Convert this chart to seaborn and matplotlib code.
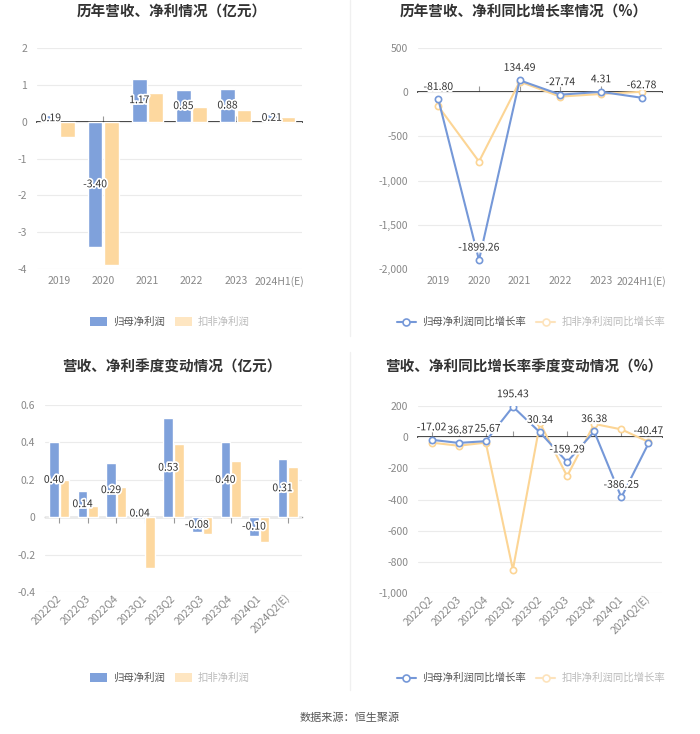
import numpy as np
import pandas as pd
import matplotlib
matplotlib.use("Agg")
import matplotlib.pyplot as plt
import seaborn as sns
from matplotlib import patheffects as pe
from matplotlib.lines import Line2D
from matplotlib.patches import Patch
from matplotlib.ticker import FuncFormatter

# ---------------- data ----------------
years = ["2019", "2020", "2021", "2022", "2023", "2024H1(E)"]
annual_parent = [0.19, -3.40, 1.17, 0.85, 0.88, 0.21]
annual_deducted = [-0.42, -3.88, 0.78, 0.40, 0.33, 0.14]
annual_parent_growth = [-81.80, -1899.26, 134.49, -27.74, 4.31, -62.78]
annual_deducted_growth = [-160, -785, 120, -50, -20, 5]

quarters = ["2022Q2", "2022Q3", "2022Q4", "2023Q1", "2023Q2", "2023Q3",
            "2023Q4", "2024Q1", "2024Q2(E)"]
q_parent = [0.40, 0.14, 0.29, 0.04, 0.53, -0.08, 0.40, -0.10, 0.31]
q_deducted = [0.20, 0.06, 0.16, -0.27, 0.39, -0.09, 0.30, -0.13, 0.27]
q_parent_growth = [-17.02, -36.87, -25.67, 195.43, 30.34, -159.29, 36.38, -386.25, -40.47]
q_deducted_growth = [-35, -55, -35, -850, 90, -250, 85, 50, -30]

S1, S2 = "归母净利润", "扣非净利润"
G1, G2 = "归母净利润同比增长率", "扣非净利润同比增长率"
titles = ["历年营收、净利情况（亿元）", "历年营收、净利同比增长率情况（%）",
          "营收、净利季度变动情况（亿元）", "营收、净利同比增长率季度变动情况（%）"]
source = "数据来源：恒生聚源"

# ---------------- style ----------------
BLUE = "#7FA1DB"
PEACH = "#FDD89F"
LBLUE = "#7598D8"
LPEACH = "#FCD595"
TICK = "#888888"
LABEL = "#333333"

sns.set_theme(style="white")
plt.rcParams["font.family"] = ["Noto Sans CJK SC", "DejaVu Sans"]
plt.rcParams["axes.unicode_minus"] = False

W, H = 700, 734
fig = plt.figure(figsize=(W / 100, H / 100), dpi=100)
fig.patch.set_facecolor("white")


def rect(x0, y0, x1, y1):
    return [x0 / W, 1 - y1 / H, (x1 - x0) / W, (y1 - y0) / H]


def fmt(v, pos=None):
    if abs(v) < 1e-9:
        return "0"
    if abs(v) >= 1000:
        return f"{v:,.0f}"
    return f"{v:g}"


def style_axes(ax, cats, ylim, yticks, rotate):
    ax.set_ylim(*ylim)
    ax.set_yticks(yticks)
    ax.yaxis.set_major_formatter(FuncFormatter(fmt))
    ax.set_xlim(-0.5, len(cats) - 0.5)
    for s in ax.spines.values():
        s.set_visible(False)
    ax.grid(axis="y", color="#EBEBEB", linewidth=0.8)
    ax.set_axisbelow(True)
    ax.tick_params(axis="y", length=0, pad=7, labelsize=7.5, labelcolor=TICK)
    ax.tick_params(axis="x", length=0, pad=5, labelsize=7.5, labelcolor=TICK)
    ax.set_xlabel("")
    ax.set_ylabel("")
    if rotate:
        for lab in ax.get_xticklabels():
            lab.set_rotation(45)
            lab.set_ha("right")
            lab.set_va("center")
            lab.set_rotation_mode("anchor")
        ax.tick_params(axis="x", pad=3)
    # zero axis line with small tick marks
    frac = (0 - ylim[0]) / (ylim[1] - ylim[0])
    sec = ax.secondary_xaxis(frac)
    sec.set_xticks(range(len(cats)))
    sec.set_xticklabels([])
    sec.tick_params(axis="x", length=4, width=0.8, color="#999999", direction="out")
    sec.spines["bottom"].set_color("#999999")
    sec.spines["bottom"].set_linewidth(1.0)


def bar_panel(ax, cats, v1, v2, ylim, yticks, rotate):
    n = len(cats)
    df = pd.DataFrame({"cat": cats * 2, "val": v1 + v2,
                       "series": [S1] * n + [S2] * n})
    sns.barplot(data=df, x="cat", y="val", hue="series", order=cats,
                hue_order=[S1, S2], palette=[BLUE, PEACH], saturation=1,
                width=0.74, gap=0.1, errorbar=None, legend=False, ax=ax)
    style_axes(ax, cats, ylim, yticks, rotate)
    for bar, v in zip(ax.containers[0], v1):
        x = bar.get_x() + bar.get_width() / 2
        y = bar.get_y() + bar.get_height() / 2
        ax.text(x, y, f"{v:.2f}", ha="center", va="center", fontsize=7.5,
                color=LABEL, zorder=5,
                path_effects=[pe.withStroke(linewidth=2.5, foreground="white")])


def line_panel(ax, cats, g1, g2, ylim, yticks, rotate):
    n = len(cats)
    df = pd.DataFrame({"cat": cats * 2, "val": g1 + g2,
                       "series": [G1] * n + [G2] * n})
    sns.lineplot(data=df, x="cat", y="val", hue="series", hue_order=[G2, G1],
                 palette=[LPEACH, LBLUE], marker="o", markersize=4.5,
                 linewidth=1.5, sort=False, legend=False, ax=ax)
    for ln in ax.lines:
        ln.set_markerfacecolor("white")
        ln.set_markeredgecolor(ln.get_color())
        ln.set_markeredgewidth(1.2)
        ln.set_zorder(3)
    style_axes(ax, cats, ylim, yticks, rotate)
    for i in reversed(range(n)):
        ax.annotate(f"{g1[i]:.2f}", xy=(i, g1[i]), xytext=(0, 9),
                    textcoords="offset points", ha="center", va="center",
                    fontsize=7.5, color=LABEL, zorder=6,
                    path_effects=[pe.withStroke(linewidth=3, foreground="white")])


ax1 = fig.add_axes(rect(37, 48, 302, 269))
bar_panel(ax1, years, annual_parent, annual_deducted, (-4, 2), np.arange(-4, 3, 1), False)

ax2 = fig.add_axes(rect(418, 48, 662, 269))
line_panel(ax2, years, annual_parent_growth, annual_deducted_growth, (-2000, 500),
           np.arange(-2000, 501, 500), False)

ax3 = fig.add_axes(rect(45, 405, 302, 592))
bar_panel(ax3, quarters, q_parent, q_deducted, (-0.4, 0.6), np.arange(-0.4, 0.61, 0.2), True)

ax4 = fig.add_axes(rect(418, 406, 662, 593))
line_panel(ax4, quarters, q_parent_growth, q_deducted_growth, (-1000, 200),
           np.arange(-1000, 201, 200), True)

# titles
for (cx, cy), t in zip([(172, 12), (524, 12), (172, 367), (524, 367)], titles):
    fig.text(cx / W, 1 - cy / H, t, ha="center", va="center", fontsize=10.5,
             fontweight="bold", color="#333333")

# legends
for cy in (322, 678):
    leg = fig.legend(handles=[Patch(facecolor=BLUE, edgecolor="none"),
                              Patch(facecolor="#FEE6C2", edgecolor="none")],
                     labels=[S1, S2], loc="center", bbox_to_anchor=(170 / W, 1 - cy / H),
                     ncol=2, frameon=False, fontsize=7.5, handlelength=1.6,
                     handleheight=0.9, handletextpad=0.6, columnspacing=1.0)
    leg.get_texts()[0].set_color("#555555")
    leg.get_texts()[1].set_color("#BBBBBB")

    leg2 = fig.legend(handles=[Line2D([0], [0], color=LBLUE, lw=1.5, marker="o",
                                      markersize=5, mfc="white", mec=LBLUE, mew=1.2),
                               Line2D([0], [0], color="#FDE3BC", lw=1.5, marker="o",
                                      markersize=5, mfc="white", mec="#FDE3BC", mew=1.2)],
                      labels=[G1, G2], loc="center", bbox_to_anchor=(531 / W, 1 - cy / H),
                      ncol=2, frameon=False, fontsize=7.5, handlelength=1.8,
                      handletextpad=0.6, columnspacing=1.0)
    leg2.get_texts()[0].set_color("#555555")
    leg2.get_texts()[1].set_color("#BBBBBB")

# divider lines
fig.add_artist(Line2D([0.5, 0.5], [1 - 0 / H, 1 - 336 / H], transform=fig.transFigure,
                      color="#F0F0F0", lw=1))
fig.add_artist(Line2D([0.5, 0.5], [1 - 352 / H, 1 - 690 / H], transform=fig.transFigure,
                      color="#F0F0F0", lw=1))

fig.text(0.5, 1 - 718 / H, source, ha="center", va="center", fontsize=8, color="#555555")

fig.savefig("out.png", dpi=100, facecolor="white")
